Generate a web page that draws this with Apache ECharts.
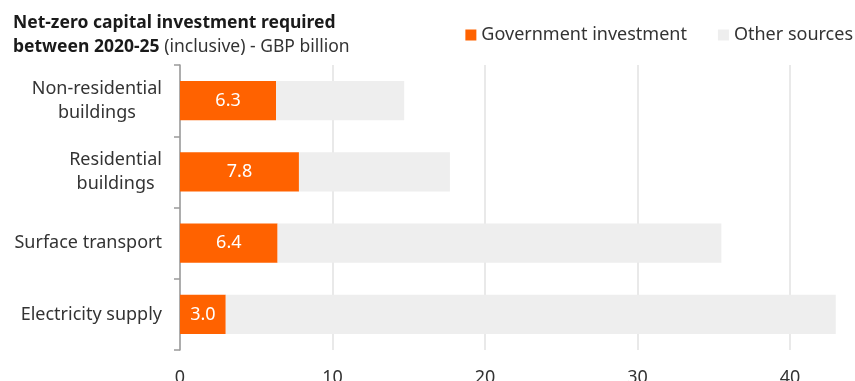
<!DOCTYPE html>
<html><head><meta charset="utf-8">
<script src="https://cdn.jsdelivr.net/npm/echarts@6/dist/echarts.min.js"></script>
<style>html,body{margin:0;padding:0;background:#fff}#c{width:855px;height:381px}</style>
</head><body><div id="c"></div>
<script>
const categories = ['Non-residential\nbuildings', 'Residential\nbuildings', 'Surface transport', 'Electricity supply'];
const government = [6.3, 7.8, 6.4, 3.0];
const other = [8.4, 9.9, 29.1, 40.0];
const xTicks = [0, 10, 20, 30, 40];

const FONT = 'Noto Sans';
const chart = echarts.init(document.getElementById('c'));
chart.setOption({
  animation: false,
  textStyle: { fontFamily: FONT },
  title: {
    left: 13, top: 11, padding: 0,
    text: '{b|Net-zero capital investment required}\n{b|between 2020-25} {r|(inclusive) - GBP billion}',
    textStyle: {
      rich: {
        b: { fontFamily: FONT, fontSize: 17.5, fontWeight: 'bold', color: '#1a1a1a', lineHeight: 24 },
        r: { fontFamily: FONT, fontSize: 17.5, fontWeight: 'normal', color: '#333', lineHeight: 24 }
      }
    }
  },
  legend: {
    right: 2, top: 26, padding: 0,
    itemWidth: 11, itemHeight: 11, itemGap: 31,
    icon: 'rect',
    textStyle: { fontFamily: FONT, fontSize: 18, color: '#333' },
    data: ['Government investment', 'Other sources']
  },
  grid: { left: 180, right: 4, top: 65, bottom: 31, containLabel: false, outerBoundsMode: 'none' },
  xAxis: {
    type: 'value', min: xTicks[0], max: 44, interval: 10,
    axisLine: { show: false }, axisTick: { show: false },
    axisLabel: { showMaxLabel: false, margin: 19, fontSize: 18, color: '#333', fontFamily: FONT },
    splitLine: { show: true, showMaxLine: false, lineStyle: { color: '#e2e2e2', width: 1.5 } }
  },
  yAxis: {
    type: 'category', inverse: true, data: categories,
    axisLine: { show: true, lineStyle: { color: '#9a9a9a', width: 1.5 } },
    axisTick: { show: true, length: 6, lineStyle: { color: '#9a9a9a', width: 1.5 } },
    axisLabel: {
      margin: 18, fontSize: 18, color: '#333', fontFamily: FONT, align: 'right',
      formatter: v => v.split('\n').map(s => '{c|' + s + '}').join('\n'),
      rich: { c: { align: 'center', fontSize: 18, color: '#333', fontFamily: FONT, lineHeight: 24 } }
    }
  },
  series: [
    {
      name: 'Government investment', type: 'bar', stack: 'a', data: government,
      barWidth: '55%', itemStyle: { color: '#FF6200' },
      label: { show: true, position: 'inside', color: '#fff', fontSize: 18, fontFamily: FONT,
        formatter: p => p.value.toFixed(1) }
    },
    {
      name: 'Other sources', type: 'bar', stack: 'a', data: other,
      barWidth: '55%', itemStyle: { color: '#EEEEEE' }
    }
  ]
});
</script></body></html>
